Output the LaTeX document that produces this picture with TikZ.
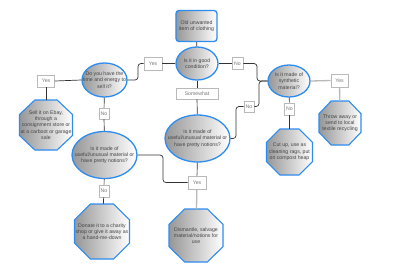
\documentclass[tikz,border=0pt]{standalone}
\usepackage{fontspec}
\setmainfont{Liberation Sans}
\usetikzlibrary{shapes.geometric}
\definecolor{bblue}{RGB}{45,140,240}
\definecolor{ftext}{RGB}{70,70,70}
\definecolor{lgray}{RGB}{185,185,185}
\definecolor{sgray}{RGB}{150,150,150}
\definecolor{tgray}{RGB}{120,120,120}
\tikzset{
 shapefill/.style={draw=bblue, line width=1.3bp, left color=sgray, right color=white},
 ell/.style={ellipse, shapefill, inner sep=0pt},
 txt/.style={align=center, text=ftext, font=\fontsize{5.2}{6.3}\selectfont, inner sep=0pt},
 tag/.style={draw=lgray, fill=white, line width=0.6bp, text=tgray, font=\fontsize{5.2}{6}\selectfont, inner sep=0pt},
 conn/.style={draw=black!80, line width=0.7bp, rounded corners=3bp},
 lconn/.style={draw=lgray, line width=1.3bp},
}
\newcommand\myoct[6]{%
 \pgfmathsetmacro\myow{#4/2}\pgfmathsetmacro\myoh{#5/2}%
 \pgfmathsetmacro\mycx{#4*0.29}\pgfmathsetmacro\mycy{#5*0.29}%
 \path[shapefill, line width=1.1bp] (#2-\myow+\mycx,#3-\myoh) -- (#2+\myow-\mycx,#3-\myoh) -- (#2+\myow,#3-\myoh+\mycy) -- (#2+\myow,#3+\myoh-\mycy) -- (#2+\myow-\mycx,#3+\myoh) -- (#2-\myow+\mycx,#3+\myoh) -- (#2-\myow,#3+\myoh-\mycy) -- (#2-\myow,#3-\myoh+\mycy) -- cycle;
 \node[txt, minimum width=#4bp, minimum height=#5bp] (#1) at (#2,#3) {#6};
}
\begin{document}
\begin{tikzpicture}[x=1bp,y=-1bp]
\useasboundingbox[fill=white] (0,0) rectangle (400,280);

% top box
\node[shapefill, rectangle, rounded corners=3bp, minimum width=41bp, minimum height=31bp, inner sep=0pt, txt] (top) at (196.5,26) {Old unwanted\\item of clothing};

% ellipses
\node[ell, minimum width=42bp, minimum height=33bp] (good) at (197,63.5) {};
\node[txt] (good-t) at (good) {Is it in good\\condition?};
\node[ell, minimum width=45bp, minimum height=34bp] (dy) at (104.5,80) {};
\node[txt] (dy-t) at (dy) {Do you have the\\time and energy to\\sell it?};
\node[ell, minimum width=65bp, minimum height=47bp] (cen) at (197.5,138.5) {};
\node[txt] (cen-t) at (cen) {Is it made of\\useful/unusual material or\\have pretty notions?};
\node[ell, minimum width=42bp, minimum height=32bp] (syn) at (289,81) {};
\node[txt] (syn-t) at (syn) {Is it made of\\synthetic\\material?};
\node[ell, minimum width=65bp, minimum height=47bp] (lef) at (104.5,155) {};
\node[txt] (lef-t) at (lef) {Is it made of\\useful/unusual material or\\have pretty notions?};

% octagons
\myoct{sell}{46}{125}{53}{50}{Sell it on Ebay,\\through a\\consignment store or\\at a carboot or garage\\sale}
\myoct{throw}{340}{123}{42}{44}{Throw away or\\send to local\\textile recycling}
\myoct{cut}{289.5}{152}{46}{46}{Cut up, use as\\cleaning rags, put\\on compost heap}
\myoct{don}{102}{231.5}{55}{55}{Donate it to a charity\\shop or give it away as\\a hand-me-down}
\myoct{dis}{196}{235.5}{54}{53}{Dismantle, salvage\\material/notions for\\use}

% tags
\node[tag, minimum width=18bp, minimum height=13bp] (yes1) at (153,63.5) {Yes};
\node[tag, minimum width=11bp, minimum height=12bp] (no1) at (237.5,63.5) {No};
\node[tag, minimum width=17bp, minimum height=12bp] (yes2) at (46,81) {Yes};
\node[tag, minimum width=10bp, minimum height=11bp] (no2) at (104,113.5) {No};
\node[tag, minimum width=42bp, minimum height=11bp] (some) at (197,93.5) {Somewhat};
\node[tag, minimum width=10bp, minimum height=11bp] (no3) at (249,106.5) {No};
\node[tag, minimum width=17bp, minimum height=13bp] (yes3) at (339.5,80.5) {Yes};
\node[tag, minimum width=10bp, minimum height=12bp] (no4) at (289.5,109) {No};
\node[tag, minimum width=10bp, minimum height=12bp] (no5) at (104,191) {No};
\node[tag, minimum width=18bp, minimum height=13bp] (yes4) at (197,182.5) {Yes};

% connectors
\draw[conn] (top) -- (good);
\draw[conn] (good) -- (yes1);
\draw[conn] (yes1.west) -- (138,63.5) -- (138,80) -- (dy.east);
\draw[conn] (dy.west) -- (yes2.east);
\draw[conn] (yes2) -- (sell);
\draw[conn] (dy) -- (no2);
\draw[conn] (no2) -- (lef);
\draw[conn] (good) -- (some);
\draw[conn] (some) -- (cen);
\draw[conn] (good) -- (no1);
\draw[conn] (no1.east) -- (257,63.5) -- (257,81) -- (syn.west);
\draw[conn] (cen.east) -- (236,138.5) -- (236,106.5) -- (no3.west);
\draw[conn] (no3.east) -- (259,106.5) -- (259,81) -- (syn.west);
\draw[lconn] (syn.east) -- (yes3.west);
\draw[lconn] (yes3) -- (throw);
\draw[conn] (syn) -- (no4);
\draw[conn] (no4) -- (cut);
\draw[conn] (lef.east) -- (163,155) -- (163,182.5) -- (yes4.west);
\draw[conn] (cen) -- (yes4);
\draw[lconn] (yes4) -- (dis);
\draw[conn] (lef) -- (no5);
\draw[conn] (no5) -- (don);
\end{tikzpicture}
\end{document}
